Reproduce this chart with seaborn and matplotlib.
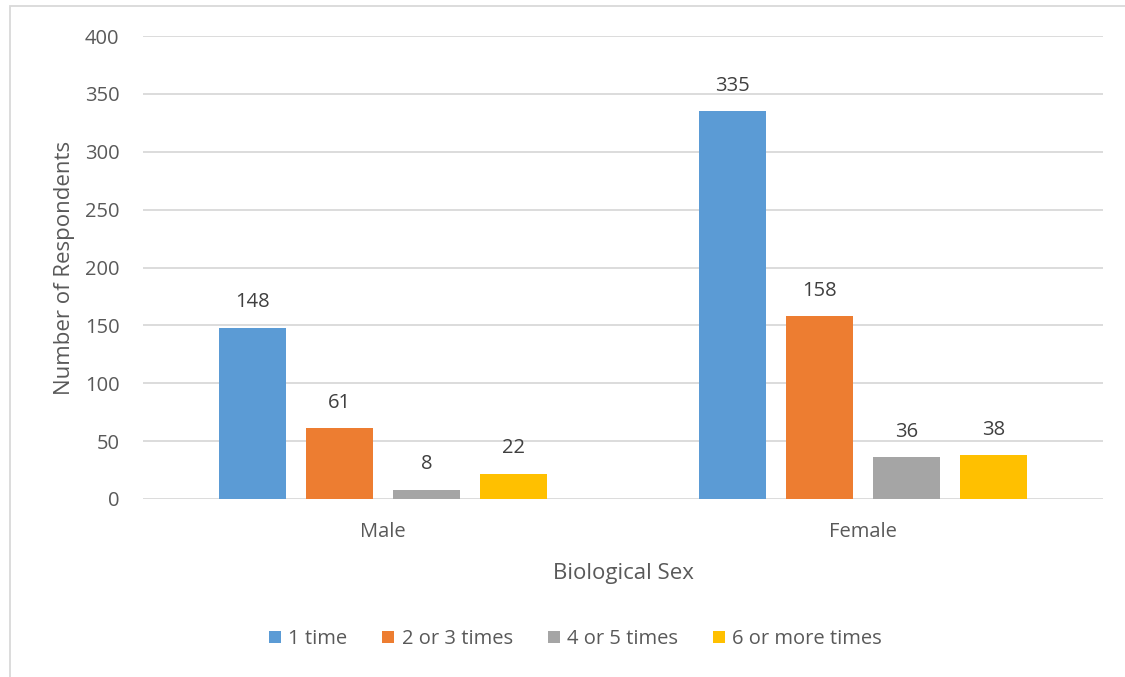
import matplotlib
matplotlib.use("Agg")
import matplotlib.pyplot as plt
import seaborn as sns
import pandas as pd
from matplotlib.patches import Rectangle, Patch

# Survey counts by biological sex and frequency
sexes = ["Male", "Female"]
frequencies = ["1 time", "2 or 3 times", "4 or 5 times", "6 or more times"]
male_counts = [148, 61, 8, 22]
female_counts = [335, 158, 36, 38]
y_ticks = [0, 50, 100, 150, 200, 250, 300, 350, 400]
colors = ["#5B9BD5", "#ED7D31", "#A5A5A5", "#FFC000"]

rows = []
for sex, counts in zip(sexes, [male_counts, female_counts]):
    for freq, c in zip(frequencies, counts):
        rows.append({"Biological Sex": sex, "Frequency": freq, "Count": c})
df = pd.DataFrame(rows)

sns.set_theme(style="white")
plt.rcParams["font.family"] = ["Open Sans", "DejaVu Sans"]

W, H = 1125, 677
fig = plt.figure(figsize=(W / 100, H / 100), dpi=100)
ax = fig.add_axes([143 / W, 1 - 499 / H, (1103 - 143) / W, (499 - 36) / H])

sns.barplot(data=df, x="Biological Sex", y="Count", hue="Frequency",
            hue_order=frequencies, order=sexes, palette=colors,
            width=0.725, gap=0.22, saturation=1, linewidth=0,
            errorbar=None, ax=ax)

ax.set_xlim(-0.5, 1.5)
ax.set_ylim(0, 400)
ax.set_yticks(y_ticks)
ax.yaxis.grid(True, color="#D9D9D9", linewidth=1.3)
ax.set_axisbelow(True)
for s in ax.spines.values():
    s.set_visible(False)

tick_color = "#595959"
ax.tick_params(axis="both", length=0, labelsize=14.5, labelcolor=tick_color)
ax.tick_params(axis="y", pad=17)
ax.tick_params(axis="x", pad=16.5)
ax.set_ylabel("Number of Respondents", fontsize=16, color=tick_color, labelpad=7)
ax.set_xlabel("Biological Sex", fontsize=16, color=tick_color, labelpad=15)

for cont in ax.containers:
    ax.bar_label(cont, fmt="%d", padding=11, fontsize=14.5, color="#404040")

leg = ax.get_legend()
if leg is not None:
    leg.remove()
handles = [Patch(facecolor=c, edgecolor="none") for c in colors]
fig.legend(handles, frequencies, loc="center", bbox_to_anchor=(575.5 / W, 1 - 639 / H),
           ncol=4, frameon=False, fontsize=14.5, labelcolor=tick_color,
           handlelength=0.6, handleheight=0.6, handletextpad=0.35,
           columnspacing=1.75)

# Outer chart frame
fig.patches.append(Rectangle((10 / W, -0.1), 1.2, 1.1 - 6.5 / H, transform=fig.transFigure,
                             fill=False, edgecolor="#D9D9D9", linewidth=1.3))

fig.savefig("out.png", dpi=100, facecolor="white")
